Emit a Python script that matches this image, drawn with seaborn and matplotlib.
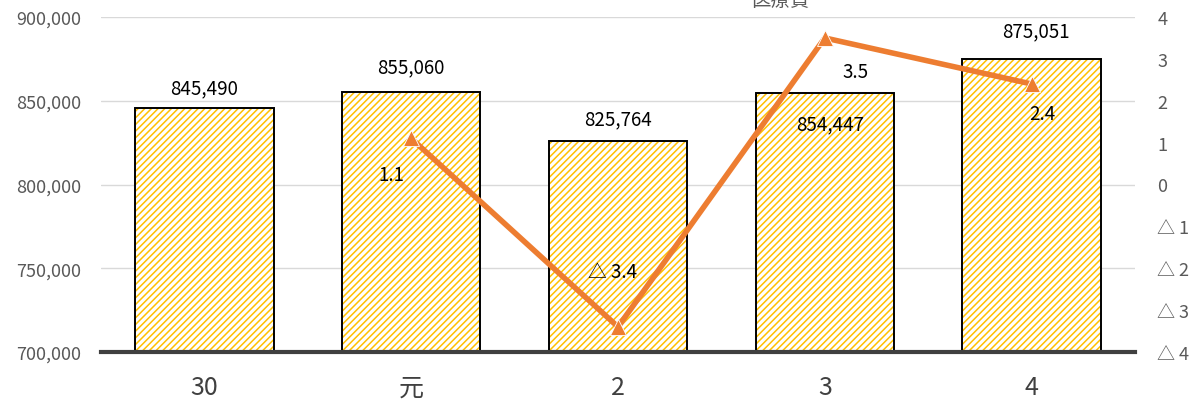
import matplotlib
matplotlib.use("Agg")
import matplotlib.pyplot as plt
from matplotlib.ticker import FuncFormatter, FixedLocator
import seaborn as sns
import numpy as np
import pandas as pd

# 年度別 医療費 と 対前年度伸び率
years = ["30", "元", "2", "3", "4"]
medical_cost = [845490, 855060, 825764, 854447, 875051]
growth_rate = [np.nan, 1.1, -3.4, 3.5, 2.4]

left_ticks = [700000, 750000, 800000, 850000, 900000]
right_ticks = [-4, -3, -2, -1, 0, 1, 2, 3, 4]

# label offsets in points (dx, dy)
bar_label_offsets = [(0, 15), (0, 18), (0, 16), (4, -22), (3, 20)]
rate_label_offsets = [None, (-14, -26), (-4, 40), (22, -24), (8, -21)]

sns.set_theme(style="white")
plt.rcParams["font.family"] = ["Noto Sans CJK JP", "DejaVu Sans"]
plt.rcParams["hatch.linewidth"] = 1.1

fig = plt.figure(figsize=(12.04, 4.10), dpi=100)
ax = fig.add_axes([101 / 1204, 1 - 353 / 410, (1135 - 101) / 1204, (353 - 18) / 410])

df = pd.DataFrame({"year": years, "cost": medical_cost, "rate": growth_rate})

hatch_color = "#FFC000"
sns.barplot(data=df, x="year", y="cost", order=years, ax=ax, width=0.67,
            color="white", edgecolor=hatch_color, linewidth=0, hatch="/////",
            zorder=2, saturation=1)
sns.barplot(data=df, x="year", y="cost", order=years, ax=ax, width=0.67,
            facecolor="none", edgecolor="black", linewidth=1.4, zorder=3,
            saturation=1)

ax.set_ylim(700000, 900000)
ax.set_xlim(-0.5, len(years) - 0.5)
ax.yaxis.set_major_locator(FixedLocator(left_ticks))
ax.yaxis.set_major_formatter(FuncFormatter(lambda v, p: f"{int(v):,}"))
ax.grid(axis="y", color="#D9D9D9", linewidth=1.0, zorder=0)
ax.set_axisbelow(True)
for s in ["top", "right", "left"]:
    ax.spines[s].set_visible(False)
ax.spines["bottom"].set_color("#404040")
ax.spines["bottom"].set_linewidth(3)
ax.spines["bottom"].set_zorder(5)
ax.tick_params(axis="y", length=0, labelsize=13, labelcolor="#595959", pad=14)
ax.tick_params(axis="x", length=0, labelsize=18, labelcolor="#404040", pad=16)
ax.set_xlabel("")
ax.set_ylabel("")

for i, v in enumerate(medical_cost):
    dx, dy = bar_label_offsets[i]
    ax.annotate(f"{v:,}", (i, v), xytext=(dx, dy), textcoords="offset points",
                ha="center", va="center", fontsize=13.5, color="black", zorder=6)

ax2 = ax.twinx()
ax2.set_position(ax.get_position())
line_df = pd.DataFrame({"pos": np.arange(len(years)), "rate": growth_rate}).dropna()
sns.lineplot(data=line_df, x="pos", y="rate", ax=ax2, color="#ED7D31",
             linewidth=4, marker="^", markersize=11, markeredgecolor="white",
             markeredgewidth=0.6, zorder=4)
ax2.set_ylim(-4, 4)
ax2.set_xlim(-0.5, len(years) - 0.5)
ax2.yaxis.set_major_locator(FixedLocator(right_ticks))


def rate_fmt(v, p):
    v = int(round(v))
    return f"△ {abs(v)}" if v < 0 else f"{v}"


ax2.yaxis.set_major_formatter(FuncFormatter(rate_fmt))
ax2.tick_params(axis="y", length=0, labelsize=13, labelcolor="#595959", pad=16)
for s in ax2.spines.values():
    s.set_visible(False)
ax2.set_ylabel("")
ax2.set_xlabel("")
ax2.grid(False)

for i, r in enumerate(growth_rate):
    if np.isnan(r):
        continue
    dx, dy = rate_label_offsets[i]
    txt = f"△ {abs(r):.1f}" if r < 0 else f"{r:.1f}"
    ax2.annotate(txt, (i, r), xytext=(dx, dy), textcoords="offset points",
                 ha="center", va="center", fontsize=13.5, color="black", zorder=6)

fig.text(780 / 1204, 1 - 1 / 410, "医療費", ha="center", va="center",
         fontsize=14, color="#595959")

fig.savefig("out.png", dpi=100)
